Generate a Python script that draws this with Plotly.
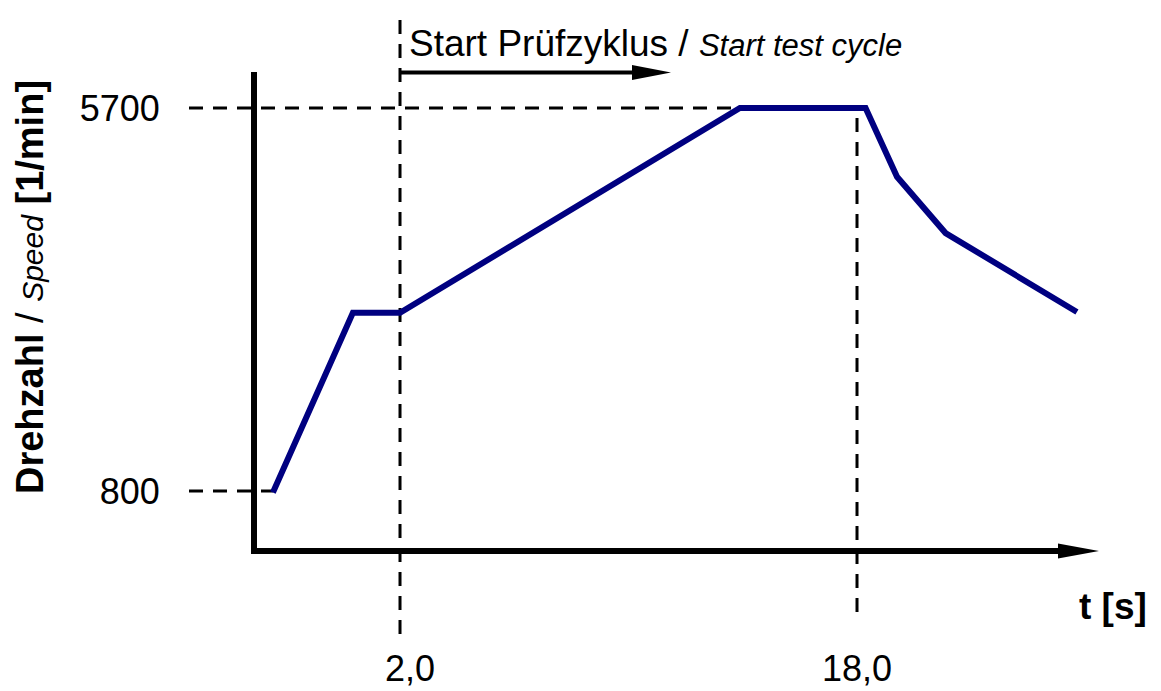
import plotly.graph_objects as go

# ---- data ----
time_s = [-2.45, 0.35, 2.0, 13.9, 18.3, 19.4, 21.1, 25.7]
speed_rpm = [780, 3080, 3080, 5700, 5700, 4820, 4100, 3090]
x_tick_vals = [2.0, 18.0]
x_tick_text = ["\u00a0\u00a02,0", "18,0"]
y_tick_vals = [800, 5700]
y_tick_text = ["800", "5700"]
cycle_start = 2.0
cycle_end = 18.0

FONT = "Liberation Sans, Arial, sans-serif"
W, H = 1161, 691
L, R, T, B = 257, 81, 72, 143
PW, PH = W - L - R, H - T - B
XR = [-3.007, 25.807]
YR = [70.8, 6160.6]


def pxx(p):
    return (p - L) / PW


def pxy(p):
    return (H - B - p) / PH


def xfrac(v):
    return (v - XR[0]) / (XR[1] - XR[0])


def yfrac(v):
    return (v - YR[0]) / (YR[1] - YR[0])


fig = go.Figure()
fig.add_trace(go.Scatter(
    x=time_s, y=speed_rpm, mode="lines",
    line=dict(color="#000080", width=6),
    hoverinfo="skip", showlegend=False,
))

dash = dict(color="black", width=3, dash="14px,10px")
shapes = [
    dict(type="line", xref="x", yref="paper", x0=cycle_start, x1=cycle_start,
         y0=pxy(634), y1=pxy(12), line=dash, layer="below"),
    dict(type="line", xref="x", yref="paper", x0=cycle_end, x1=cycle_end,
         y0=pxy(612), y1=yfrac(y_tick_vals[1]), line=dash, layer="below"),
    dict(type="line", xref="paper", yref="y", x0=pxx(189), x1=xfrac(time_s[3]),
         y0=y_tick_vals[1], y1=y_tick_vals[1], line=dash, layer="below"),
    dict(type="line", xref="paper", yref="y", x0=pxx(189), x1=xfrac(time_s[0]),
         y0=y_tick_vals[0], y1=y_tick_vals[0], line=dash, layer="below"),
    # x-axis arrow head
    dict(type="path", xref="paper", yref="paper",
         path=f"M{pxx(1058)},{pxy(543.5)} L{pxx(1099)},{pxy(551)} L{pxx(1058)},{pxy(558.5)} Z",
         fillcolor="black", line=dict(width=0)),
    # top arrow
    dict(type="line", xref="paper", yref="paper", x0=xfrac(cycle_start), x1=pxx(640),
         y0=pxy(72.5), y1=pxy(72.5), line=dict(color="black", width=4)),
    dict(type="path", xref="paper", yref="paper",
         path=f"M{pxx(632)},{pxy(65)} L{pxx(671)},{pxy(72.5)} L{pxx(632)},{pxy(80)} Z",
         fillcolor="black", line=dict(width=0)),
]

annotations = [
    dict(xref="paper", yref="paper", x=pxx(407), y=pxy(44), xanchor="left", yanchor="middle",
         text="Start Prüfzyklus / <i><span style='font-size:31px'>Start test cycle</span></i>",
         showarrow=False, font=dict(family=FONT, size=37, color="black")),
    dict(xref="paper", yref="paper", x=pxx(30), y=pxy(287), xanchor="center", yanchor="middle",
         textangle=-90,
         text="<b>Drehzahl</b> / <i><span style='font-size:30px'>Speed</span></i> <b>[1/min]</b>",
         showarrow=False, font=dict(family=FONT, size=38, color="black")),
    dict(xref="paper", yref="paper", x=pxx(1113), y=pxy(606), xanchor="center", yanchor="middle",
         text="<b>t [s]</b>", showarrow=False, font=dict(family=FONT, size=37, color="black")),
]

fig.update_layout(
    width=W, height=H,
    margin=dict(l=L, r=R, t=T, b=B, pad=0, autoexpand=False),
    paper_bgcolor="white", plot_bgcolor="white",
    shapes=shapes, annotations=annotations,
    showlegend=False,
    font=dict(family=FONT, color="black"),
)
fig.update_xaxes(
    range=XR, showgrid=False, zeroline=False, showline=True, linecolor="black", linewidth=6,
    tickvals=x_tick_vals, ticktext=x_tick_text, ticks="", ticklabelstandoff=84,
    tickfont=dict(family=FONT, size=36, color="black"), fixedrange=True, automargin=False,
)
fig.update_yaxes(
    range=YR, showgrid=False, zeroline=False, showline=True, linecolor="black", linewidth=6,
    tickvals=y_tick_vals, ticktext=y_tick_text, ticks="", ticklabelstandoff=84,
    tickfont=dict(family=FONT, size=36, color="black"), fixedrange=True, automargin=False,
)

fig.write_html("out.html", config={"displayModeBar": False},
               post_script="document.body.style.margin='0';")
